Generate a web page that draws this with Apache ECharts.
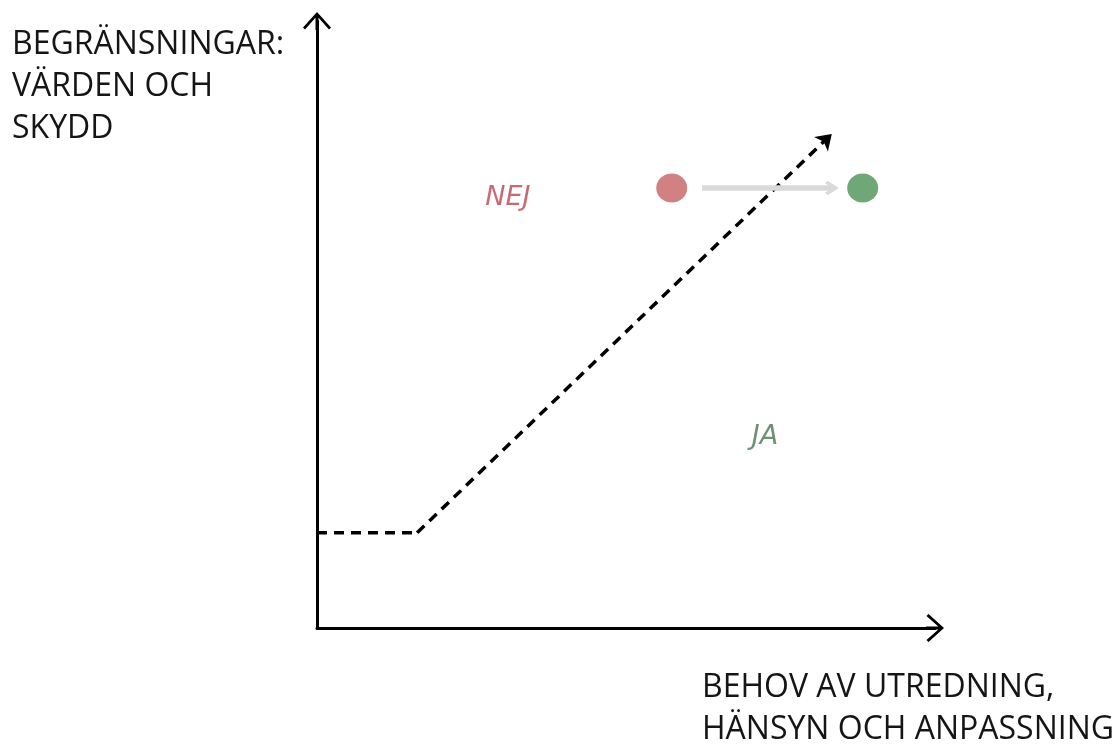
<!DOCTYPE html>
<html>
<head>
<meta charset="utf-8">
<script src="https://cdn.jsdelivr.net/npm/echarts@6/dist/echarts.min.js"></script>
<style>
html,body{margin:0;padding:0;background:#fff;}
#chart{width:1115px;height:744px;}
</style>
</head>
<body>
<div id="chart"></div>
<script>
// ---- data (axis units 0..100) ----
const yAxisTitle = ['BEGRÄNSNINGAR:', 'VÄRDEN OCH', 'SKYDD'];
const xAxisTitle = ['BEHOV AV UTREDNING,', 'HÄNSYN OCH ANPASSNING'];
const thresholdFlat = [[0, 15.7], [16.2, 15.7]];
const thresholdRise = [[16.2, 15.7], [83.3, 81.4]];
const moveFrom = [57.4, 72.5];
const moveTo = [88.3, 72.5];
const moveArrow = [[62.3, 72.5], [83.3, 72.5]];
const regionLabels = [
  { name: 'NEJ', value: [30.9, 70.8], color: '#b94650' },
  { name: 'JA', value: [72.5, 31.5], color: '#4a7450' }
];

const chevron = 'path://M14,0 L28,15.5 L26,17.5 L14,4 L2,17.5 L0,15.5 Z M12.5,2 L15.5,2 L15.5,18 L12.5,18 Z';
const grayChevron = 'path://M10,0 L20,10 L17,13 L10,6 L3,13 L0,10 Z';

const chart = echarts.init(document.getElementById('chart'));
const option = {
  animation: false,
  backgroundColor: '#fff',
  grid: { left: 317, right: 180, top: 21, bottom: 116 },
  xAxis: {
    type: 'value', min: 0, max: 100,
    axisLine: { show: true, lineStyle: { color: '#000', width: 3 },
      symbol: ['none', chevron], symbolSize: [28, 18] },
    axisTick: { show: false }, axisLabel: { show: false }, splitLine: { show: false }
  },
  yAxis: {
    type: 'value', min: 0, max: 100,
    axisLine: { show: true, lineStyle: { color: '#000', width: 3 },
      symbol: ['none', chevron], symbolSize: [28, 18] },
    axisTick: { show: false }, axisLabel: { show: false }, splitLine: { show: false }
  },
  series: [
    {
      type: 'line', data: thresholdFlat, symbol: 'none', silent: true,
      lineStyle: { color: '#000', width: 3.5, type: [10, 7] }
    },
    {
      type: 'lines', coordinateSystem: 'cartesian2d', silent: true,
      data: [{ coords: thresholdRise }],
      symbol: ['none', 'arrow'], symbolSize: 15,
      lineStyle: { color: '#000', width: 3.5, type: [10, 7], opacity: 1 }
    },
    {
      type: 'lines', coordinateSystem: 'cartesian2d', silent: true,
      data: [{ coords: moveArrow }],
      symbol: ['none', grayChevron], symbolSize: [22, 14],
      lineStyle: { color: '#d9d9d9', width: 5.5, opacity: 1 }
    },
    {
      type: 'scatter', silent: true, z: 5,
      data: [
        { value: moveFrom, itemStyle: { color: '#c66163' } },
        { value: moveTo, itemStyle: { color: '#4c9155' } }
      ],
      symbol: 'circle', symbolSize: [31, 29]
    },
    {
      type: 'scatter', silent: true, symbolSize: 0,
      data: regionLabels.map(d => ({
        name: d.name, value: d.value,
        label: { show: true, position: 'inside', formatter: d.name,
          color: d.color, fontSize: 27, fontStyle: 'italic', fontFamily: 'DejaVu Sans' }
      }))
    }
  ],
  graphic: [
    {
      type: 'text', left: 12, top: 24,
      style: { text: yAxisTitle.join('\n'), fontFamily: 'Open Sans', fontSize: 32,
        lineHeight: 42, fill: '#151515' }
    },
    {
      type: 'text', left: 702, top: 667,
      style: { text: xAxisTitle.join('\n'), fontFamily: 'Open Sans', fontSize: 32,
        lineHeight: 42, fill: '#151515' }
    }
  ]
};
chart.setOption(option);
</script>
</body>
</html>
